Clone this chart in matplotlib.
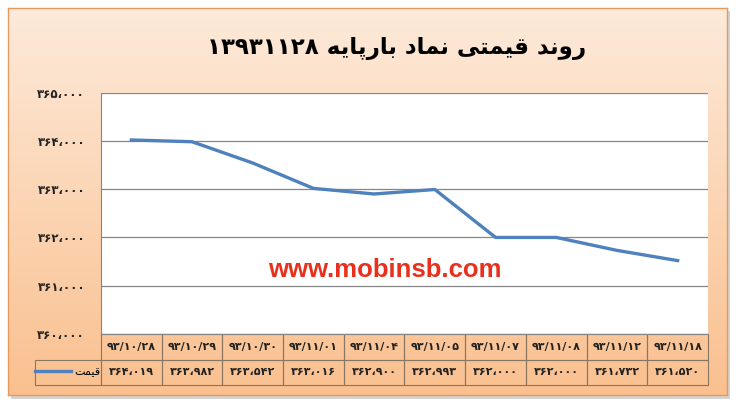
import numpy as np
import matplotlib
matplotlib.use("Agg")
import matplotlib.pyplot as plt

# data
dates = ['93/10/28', '93/10/29', '93/10/30', '93/11/01', '93/11/04',
         '93/11/05', '93/11/07', '93/11/08', '93/11/12', '93/11/18']
prices = [364019, 363982, 363542, 363016, 362900, 362993, 362000, 362000, 361732, 361520]
yticks = [360000, 361000, 362000, 363000, 364000, 365000]

# persian words written in presentation forms (logical order), reversed for display
w_ravand = "\uFEAD\uFEED\uFEE7\uFEAA"
w_gheymati = "\uFED7\uFBFF\uFEE4\uFE98\uFBFD"
w_namad = "\uFEE7\uFEE4\uFE8E\uFEA9"
w_barpaye = "\uFE91\uFE8E\uFEAD\uFB58\uFE8E\uFBFE\uFEEA"
w_gheymat = "\uFED7\uFBFF\uFEE4\uFE96"


def fa(s):
    return s.translate(str.maketrans('0123456789,', '۰۱۲۳۴۵۶۷۸۹،'))


title = fa('13931128') + ' ' + (w_ravand + ' ' + w_gheymati + ' ' + w_namad + ' ' + w_barpaye)[::-1]
series_label = w_gheymat[::-1]

fig = plt.figure(figsize=(7.36, 4.07), dpi=100)
fig.patch.set_facecolor('white')

# background panel with gradient and a soft shadow
W, H = 736, 407
shadow = fig.add_axes([11 / W, 1 - 399 / H, 719 / W, 388 / H], zorder=-2)
shadow.set_facecolor('#d4d4d4')
shadow.set_xticks([])
shadow.set_yticks([])
for s in shadow.spines.values():
    s.set_visible(False)

bg = fig.add_axes([8 / W, 1 - 395 / H, 719 / W, 387 / H], zorder=-1)
grad = np.linspace(0, 1, 256).reshape(-1, 1)
c1 = np.array([253, 234, 218]) / 255
c2 = np.array([250, 192, 143]) / 255
img = c1 + (c2 - c1) * grad[:, :, None]
bg.imshow(img, aspect='auto', extent=[0, 1, 0, 1], origin='upper')
bg.set_xticks([])
bg.set_yticks([])
for s in bg.spines.values():
    s.set_color('#e49a5c')
    s.set_linewidth(1)

fig.text(397 / W, 1 - 48 / H, title, ha='center', va='center', fontsize=16.5,
         fontweight='bold', family='DejaVu Sans')

ax = fig.add_axes([101 / W, 1 - 334 / H, 607 / W, 241.4 / H], zorder=1)
ax.set_facecolor('white')
x = np.arange(len(dates))
ax.plot(x, prices, color='#4f81bd', linewidth=2.4, label=series_label)
ax.set_xlim(-0.5, len(dates) - 0.5)
ax.set_ylim(360000, 365000)
ax.set_yticks(yticks)
ax.set_yticklabels([fa(format(v, ',')) for v in yticks], fontsize=8.5, fontweight='bold', color='#222222')
ax.set_xticks([])
ax.tick_params(axis='y', length=0, pad=11.5)
ax.grid(axis='y', color='#868686', linewidth=0.9)
ax.set_axisbelow(True)
for side in ['top', 'right']:
    ax.spines[side].set_visible(False)
ax.spines['left'].set_color('#868686')
ax.spines['bottom'].set_color('#868686')

ax.text(0.468, 0.265, 'www.mobinsb.com', transform=ax.transAxes, ha='center', va='center',
        color='#e8301c', fontsize=18.5, fontweight='bold', family='Liberation Sans')

# data table under the chart
cells = [[''] + [fa(d) for d in dates],
         [''] + [fa(format(v, ',')) for v in prices]]
lw = 66 / 673
cw = 607 / 673 / len(dates)
tab = ax.table(cellText=cells, colWidths=[lw] + [cw] * len(dates), cellLoc='center',
               bbox=[-66 / 607, -51 / 241.4, 673 / 607, 51 / 241.4])
tab.auto_set_font_size(False)
for (r, c), cell in tab.get_celld().items():
    cell.set_facecolor('none')
    cell.set_edgecolor('#8a7560')
    cell.set_linewidth(0.8)
    cell.get_text().set_fontsize(8)
    cell.get_text().set_fontweight('bold')
    cell.get_text().set_color('#222222')
    if r == 0 and c == 0:
        cell.set_visible(False)

leg = ax.legend(loc='center', bbox_to_anchor=(-33 / 607, -38 / 241.4), frameon=False,
                fontsize=8, handlelength=3.2, handletextpad=0.3, borderpad=0)

fig.savefig('out.png', dpi=100)
